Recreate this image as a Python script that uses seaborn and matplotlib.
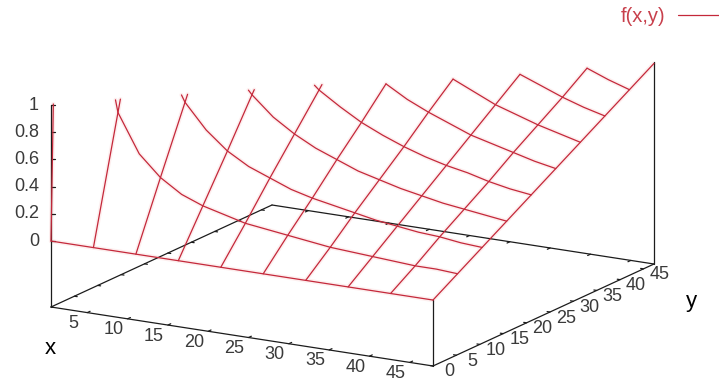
import numpy as np
import pandas as pd
import seaborn as sns
import matplotlib
matplotlib.use('Agg')
import matplotlib.pyplot as plt

# grid of the surface, one line per value
x_grid = [0.5, 5.76, 11.03, 16.29, 21.56, 26.82, 32.09, 37.35, 42.62, 47.88]
y_grid = [0, 5.25, 10.5, 15.75, 21, 26.25, 31.5, 36.75, 42, 47.25]
# extra samples along x for the curved lines
x_mid = [3.13, 8.4, 13.66, 18.93, 24.19, 29.46, 34.72, 39.99, 45.25]

# f(x,y), rows are x_grid, columns are y_grid
z_x00 = [0, 10.5, 21.0, 31.5, 42.0, 52.5, 63.0, 73.5, 84.0, 94.5]
z_x05 = [0, 0.91, 1.82, 2.73, 3.65, 4.56, 5.47, 6.38, 7.29, 8.20]
z_x11 = [0, 0.48, 0.95, 1.43, 1.90, 2.38, 2.86, 3.33, 3.81, 4.28]
z_x16 = [0, 0.32, 0.64, 0.97, 1.29, 1.61, 1.93, 2.26, 2.58, 2.90]
z_x21 = [0, 0.24, 0.49, 0.73, 0.97, 1.22, 1.46, 1.70, 1.95, 2.19]
z_x26 = [0, 0.20, 0.39, 0.59, 0.78, 0.98, 1.17, 1.37, 1.57, 1.76]
z_x32 = [0, 0.16, 0.33, 0.49, 0.65, 0.82, 0.98, 1.15, 1.31, 1.47]
z_x37 = [0, 0.14, 0.28, 0.42, 0.56, 0.70, 0.84, 0.98, 1.12, 1.27]
z_x42 = [0, 0.12, 0.25, 0.37, 0.49, 0.62, 0.74, 0.86, 0.99, 1.11]
z_x47 = [0, 0.11, 0.22, 0.33, 0.44, 0.55, 0.66, 0.77, 0.88, 0.99]

# same, rows are x_mid
z_m03 = [0, 1.68, 3.35, 5.03, 6.71, 8.39, 10.06, 11.74, 13.42, 15.09]
z_m08 = [0, 0.63, 1.25, 1.88, 2.50, 3.13, 3.75, 4.38, 5.00, 5.63]
z_m13 = [0, 0.38, 0.77, 1.15, 1.54, 1.92, 2.31, 2.69, 3.07, 3.46]
z_m18 = [0, 0.28, 0.55, 0.83, 1.11, 1.39, 1.66, 1.94, 2.22, 2.50]
z_m24 = [0, 0.22, 0.43, 0.65, 0.87, 1.09, 1.30, 1.52, 1.74, 1.95]
z_m29 = [0, 0.18, 0.36, 0.53, 0.71, 0.89, 1.07, 1.25, 1.43, 1.60]
z_m34 = [0, 0.15, 0.30, 0.45, 0.60, 0.76, 0.91, 1.06, 1.21, 1.36]
z_m39 = [0, 0.13, 0.26, 0.39, 0.53, 0.66, 0.79, 0.92, 1.05, 1.18]
z_m45 = [0, 0.12, 0.23, 0.35, 0.46, 0.58, 0.70, 0.81, 0.93, 1.04]

x_ticks = [5, 10, 15, 20, 25, 30, 35, 40, 45]
y_ticks = [0, 5, 10, 15, 20, 25, 30, 35, 40, 45]
z_ticks = [0, 0.2, 0.4, 0.6, 0.8, 1]
z_labels = ['0', '0.2', '0.4', '0.6', '0.8', '1']

# axis ranges
x_min, x_max = 0.5, 47.88
y_min, y_max = 0, 47.25
z_base, z_top = -0.485, 1

Z = np.array([z_x00, z_x05, z_x11, z_x16, z_x21, z_x26, z_x32, z_x37, z_x42, z_x47])
Z_mid = np.array([z_m03, z_m08, z_m13, z_m18, z_m24, z_m29, z_m34, z_m39, z_m45])

# all samples along x, in order, for the lines of constant y
x_all = np.concatenate([x_grid, x_mid])
Z_all = np.vstack([Z, Z_mid])
order = np.argsort(x_all)
x_all = x_all[order]
Z_all = Z_all[order]

RED = '#c4283a'
GREY = '#3a3a3a'
BLACK = '#1c1c1c'


# gnuplot like view: linear map from data to picture pixels
def project(x, y, z):
    sx = 51 + (x - x_min) / (x_max - x_min) * 382 + (y - y_min) / (y_max - y_min) * 221
    sy = 307 + (x - x_min) / (x_max - x_min) * 59 - (y - y_min) / (y_max - y_min) * 102
    sy = sy - (z - z_base) * 136
    return sx, sy


# cut a polyline at the top of the z range
def clip_top(xs, ys, zs):
    out = []
    for k in range(len(xs) - 1):
        a = (xs[k], ys[k], zs[k])
        b = (xs[k + 1], ys[k + 1], zs[k + 1])
        if a[2] > z_top and b[2] > z_top:
            continue
        if a[2] > z_top or b[2] > z_top:
            t = (z_top - a[2]) / (b[2] - a[2])
            c = tuple(a[n] + t * (b[n] - a[n]) for n in range(3))
            if a[2] > z_top:
                a = c
            else:
                b = c
        out.append(a)
        out.append(b)
    return out


rows = []
line_id = 0
y_arr = np.array(y_grid)
for i, xv in enumerate(x_grid):
    # the far lines stop at their corner, no tail past it
    keep = y_arr <= xv if xv > 25 else np.ones(len(y_arr), dtype=bool)
    for p in clip_top([xv] * keep.sum(), y_arr[keep], Z[i, keep]):
        rows.append((line_id,) + project(*p))
    line_id += 1
for j, yv in enumerate(y_grid):
    keep = x_all >= yv if yv > 25 else np.ones(len(x_all), dtype=bool)
    for p in clip_top(x_all[keep], [yv] * keep.sum(), Z_all[keep, j]):
        rows.append((line_id,) + project(*p))
    line_id += 1
surface = pd.DataFrame(rows, columns=['line', 'sx', 'sy'])

# box of the plot
edges = [
    (x_min, y_min, z_base, x_max, y_min, z_base),
    (x_max, y_min, z_base, x_max, y_max, z_base),
    (x_max, y_max, z_base, x_min, y_max, z_base),
    (x_min, y_max, z_base, x_min, y_min, z_base),
    (x_min, y_min, z_base, x_min, y_min, z_top),
    (x_max, y_min, z_base, x_max, y_min, 0),
    (x_max, y_max, z_base, x_max, y_max, z_top),
]
# ticks, mirrored on the far side
dy = 0.6
dx = 0.35
for t in x_ticks:
    edges.append((t, y_min, z_base, t, y_min + dy, z_base))
    edges.append((t, y_max, z_base, t, y_max - dy, z_base))
for t in y_ticks:
    edges.append((x_min, t, z_base, x_min + dx, t, z_base))
    edges.append((x_max, t, z_base, x_max - dx, t, z_base))
box_rows = []
for n, c in enumerate(edges):
    box_rows.append((n,) + project(c[0], c[1], c[2]))
    box_rows.append((n,) + project(c[3], c[4], c[5]))
box = pd.DataFrame(box_rows, columns=['line', 'sx', 'sy'])

sns.set_theme(style='white')
plt.rcParams['font.family'] = ['Liberation Sans', 'DejaVu Sans']

fig = plt.figure(figsize=(7.19, 3.83), dpi=100)
ax = fig.add_axes([0, 0, 1, 1])

# pale fringe, then the surface
sns.lineplot(data=surface, x='sx', y='sy', units='line', estimator=None, sort=False,
             color='#fdeeee', lw=3.0, ax=ax, legend=False, zorder=1)
sns.lineplot(data=box, x='sx', y='sy', units='line', estimator=None, sort=False,
             color=BLACK, lw=0.9, ax=ax, legend=False, zorder=2)
sns.lineplot(data=surface, x='sx', y='sy', units='line', estimator=None, sort=False,
             color=RED, lw=0.9, ax=ax, legend=False, zorder=3)

# z ticks
for t, lab in zip(z_ticks, z_labels):
    sx, sy = project(x_min, y_min, t)
    ax.plot([sx, sx + 4], [sy, sy], color=BLACK, lw=0.9, zorder=2)
    ax.text(39, sy, lab, ha='right', va='center', fontsize=13, color=GREY)

for t in x_ticks:
    sx, sy = project(t, y_min, z_base)
    ax.text(sx - 14, sy + 11, str(t), ha='center', va='center', fontsize=13, color=GREY)
for t in y_ticks:
    sx, sy = project(x_max, t, z_base)
    ax.text(sx + 16, sy + 6, str(t), ha='center', va='center', fontsize=13, color=GREY)

ax.text(50, 348, 'x', ha='center', va='center', fontsize=16, color='black')
ax.text(691, 302, 'y', ha='center', va='center', fontsize=16, color='black')

# key
ax.text(665, 17, 'f(x,y)', ha='right', va='center', fontsize=14.5, color='#c8404c')
ax.plot([678, 719], [15, 15], color=RED, lw=0.9)

ax.set_xlim(0, 719)
ax.set_ylim(383, 0)
ax.set_axis_off()

fig.savefig('out.png', dpi=100, facecolor='white')
